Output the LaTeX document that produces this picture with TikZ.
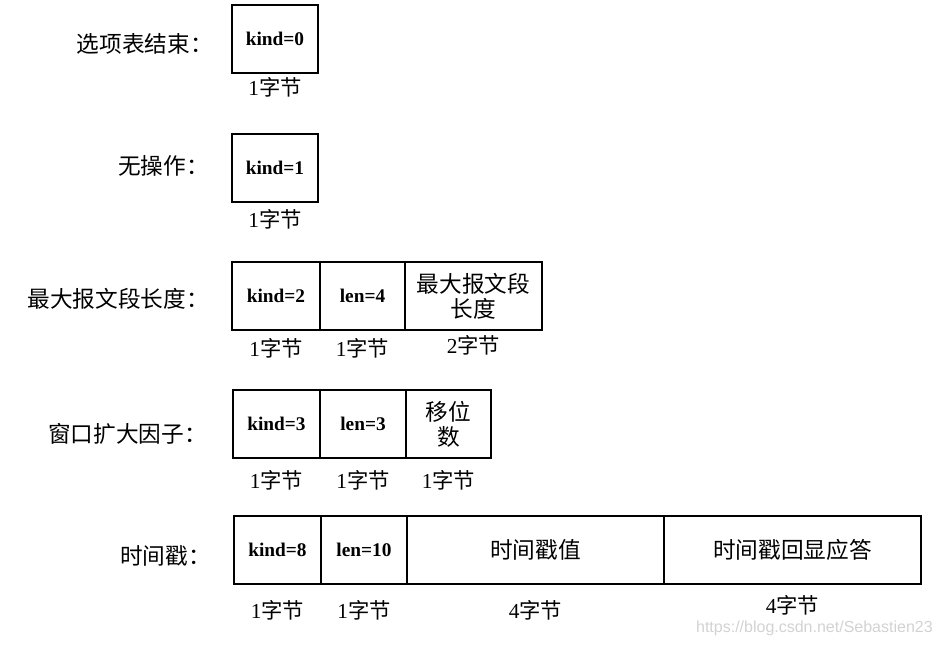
\documentclass[tikz,border=0pt]{standalone}
\usepackage{fontspec}
\setmainfont{Liberation Serif}
\newfontfamily\cjk{Noto Sans CJK SC}
\newfontfamily\wmfont{Liberation Sans}
\usetikzlibrary{positioning}
\begin{document}
\begin{tikzpicture}[x=0.75pt,y=-0.75pt]
  \tikzset{
    field/.style={draw, line width=1.3pt, outer sep=0pt, inner sep=0pt, minimum width=#1,
      minimum height=51pt, align=center, font=\fontsize{14.5}{17}\selectfont\bfseries},
    field/.default=65pt,
    zhfield/.style={field=#1, font=\fontsize{17}{19}\selectfont\cjk},
    bytes/.style={inner sep=0pt, font=\fontsize{16}{19}\selectfont},
    rowlabel/.style={anchor=east, inner sep=0pt, font=\fontsize{17}{19}\selectfont\cjk},
    wmtext/.style={anchor=east, inner sep=0pt, text=gray!35, font=\fontsize{12}{14}\selectfont\wmfont}}
  \useasboundingbox (0,0) rectangle (943,644);
  % 选项表结束
  \node[rowlabel] (n1) at (213,44) {选项表结束：};
  \node[field=64.5pt, anchor=north west] (k1) at (232,5) {kind=0};
  \node[bytes, below=3pt of k1] (b1) {1{\cjk 字节}};
  % 无操作
  \node[rowlabel] (n2) at (209,166) {无操作：};
  \node[field=64.5pt, anchor=north west] (k2) at (232,134) {kind=1};
  \node[bytes, below=5pt of k2] (b2) {1{\cjk 字节}};
  % 最大报文段长度
  \node[rowlabel] (n3) at (209,299) {最大报文段长度：};
  \node[field=66pt, anchor=north west] (k3) at (232,262) {kind=2};
  \node[field=63.75pt, right=0pt of k3] (l3) {len=4};
  \node[zhfield=102.75pt, right=0pt of l3] (v3) {最大报文段\\长度};
  \node[bytes, below=6pt of k3] (b3k) {1{\cjk 字节}};
  \node[bytes, below=6pt of l3] (b3l) {1{\cjk 字节}};
  \node[bytes, below=4pt of v3] (b3v) {2{\cjk 字节}};
  % 窗口扩大因子
  \node[rowlabel] (n4) at (207,434) {窗口扩大因子：};
  \node[field=65.25pt, anchor=north west] (k4) at (233,390) {kind=3};
  \node[field=64.5pt, right=0pt of k4] (l4) {len=3};
  \node[zhfield=63.75pt, right=0pt of l4] (v4) {移位\\数};
  \node[bytes, below=9pt of k4] (b4k) {1{\cjk 字节}};
  \node[bytes, below=9pt of l4] (b4l) {1{\cjk 字节}};
  \node[bytes, below=9pt of v4] (b4v) {1{\cjk 字节}};
  % 时间戳
  \node[rowlabel] (n5) at (211,556) {时间戳：};
  \node[field=65.25pt, anchor=north west] (k5) at (234,516) {kind=8};
  \node[field=64.5pt, right=0pt of k5] (l5) {len=10};
  \node[zhfield=192.75pt, right=0pt of l5] (v5) {时间戳值};
  \node[zhfield=192.75pt, right=0pt of v5] (e5) {时间戳回显应答};
  \node[bytes, below=12pt of k5] (b5k) {1{\cjk 字节}};
  \node[bytes, below=12pt of l5] (b5l) {1{\cjk 字节}};
  \node[bytes, below=12pt of v5] (b5v) {4{\cjk 字节}};
  \node[bytes, below=8pt of e5] (b5e) {4{\cjk 字节}};
  \node[wmtext] (wm) at (933,628) {https://blog.csdn.net/Sebastien23};
\end{tikzpicture}
\end{document}
